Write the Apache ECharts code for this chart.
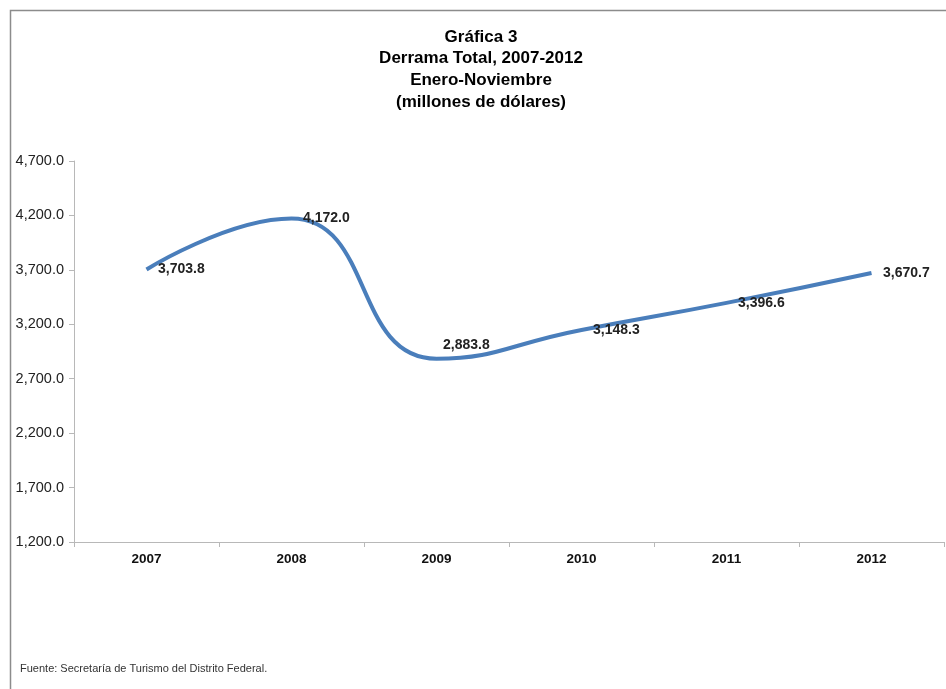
<!DOCTYPE html>
<html>
<head>
<meta charset="utf-8">
<script src="https://cdn.jsdelivr.net/npm/echarts@6/dist/echarts.min.js"></script>
<style>
html, body { margin: 0; padding: 0; background: #fff; }
#container { width: 946px; height: 689px; }
</style>
</head>
<body>
<div id="container"></div>
<script>
// chart data
var years = ['2007', '2008', '2009', '2010', '2011', '2012'];
var derrama = [3703.8, 4172.0, 2883.8, 3148.3, 3396.6, 3670.7];
var titleLines = ['Gráfica 3', 'Derrama Total, 2007-2012', 'Enero-Noviembre', '(millones de dólares)'];
var fuente = 'Fuente: Secretaría de Turismo del Distrito Federal.';

var font = 'Arial, "Liberation Sans", sans-serif';

function fmt(v) {
    var parts = v.toFixed(1).split('.');
    parts[0] = parts[0].replace(/\B(?=(\d{3})+(?!\d))/g, ',');
    return parts.join('.');
}

// labels sit to the right of each point, the 2009 one is lifted a bit
var seriesData = [];
for (var i = 0; i < derrama.length; i++) {
    var item = { value: derrama[i] };
    if (years[i] == '2009') {
        item.label = { offset: [-5, -14] };
    }
    seriesData.push(item);
}

var myChart = echarts.init(document.getElementById('container'));
var option = {
    backgroundColor: '#fff',
    animation: false,
    title: {
        text: titleLines.join('\n'),
        left: 476,
        textAlign: 'center',
        top: 21,
        textStyle: {
            fontFamily: font,
            fontSize: 17,
            fontWeight: 'bold',
            color: '#000',
            lineHeight: 21.7
        }
    },
    graphic: [
        {
            type: 'rect',
            shape: { x: 10.5, y: 10.5, width: 960, height: 700 },
            style: { fill: 'none', stroke: '#8c8c8c', lineWidth: 1.5 },
            silent: true
        },
        {
            type: 'text',
            left: 20,
            top: 663,
            style: {
                text: fuente,
                font: '11px ' + font,
                fill: '#333'
            }
        }
    ],
    grid: { left: 74, right: 2, top: 161, bottom: 147 },
    xAxis: {
        type: 'category',
        data: years,
        boundaryGap: true,
        axisLine: { lineStyle: { color: '#b8b8b8', width: 1 } },
        axisTick: { show: true, length: 5, lineStyle: { color: '#b8b8b8' } },
        axisLabel: {
            margin: 10,
            fontFamily: font,
            fontSize: 13.5,
            fontWeight: 'bold',
            color: '#111'
        }
    },
    yAxis: {
        type: 'value',
        min: 1200,
        max: 4700,
        interval: 500,
        splitLine: { show: false },
        axisLine: { show: true, lineStyle: { color: '#b8b8b8', width: 1 } },
        axisTick: { show: true, length: 5, lineStyle: { color: '#b8b8b8' } },
        axisLabel: {
            margin: 10,
            fontFamily: font,
            fontSize: 14.5,
            color: '#222',
            formatter: function (v) { return fmt(v); }
        }
    },
    series: [{
        type: 'line',
        data: seriesData,
        smooth: 0.5,
        symbol: 'circle',
        symbolSize: 1,
        showSymbol: true,
        itemStyle: { color: 'rgba(0,0,0,0)' },
        lineStyle: { color: '#4a7ebb', width: 4 },
        label: {
            show: true,
            position: 'right',
            distance: 11,
            fontFamily: font,
            fontSize: 14,
            fontWeight: 'bold',
            color: '#222',
            formatter: function (p) { return fmt(p.value); }
        }
    }]
};
myChart.setOption(option);
</script>
</body>
</html>
